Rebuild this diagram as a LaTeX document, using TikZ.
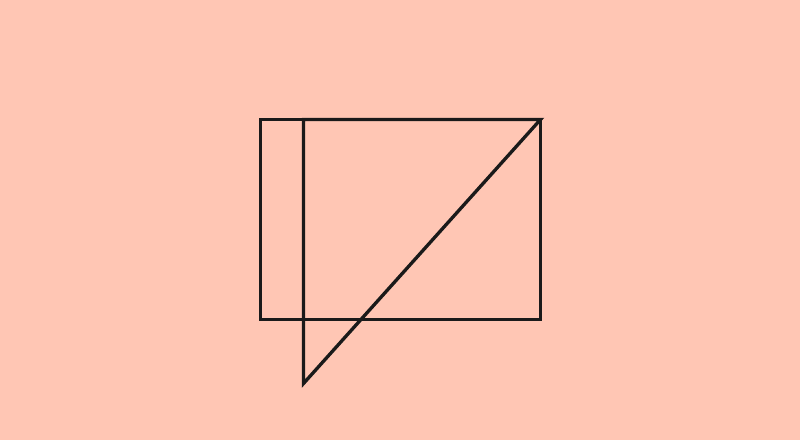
\documentclass[tikz,border=0pt]{standalone}
\usepackage{tikz}
\usetikzlibrary{positioning}
\definecolor{bgpeach}{HTML}{FFC6B4}
\definecolor{inkdark}{HTML}{1A1A1A}

\begin{document}
\begin{tikzpicture}[x=0.02cm, y=-0.02cm,
  edge/.style={draw=inkdark, line width=1.9pt, line join=miter}]
  \fill[bgpeach] (0,0) rectangle (800,440);
  \useasboundingbox (0,0) rectangle (800,440);
  % frame
  \coordinate (tl) at (260.5,119.5);
  \coordinate (br) at (540.5,319.5);
  \draw[edge] (tl) rectangle (br);
  % triangle
  \coordinate (top) at (303.5,119.5);
  \coordinate (tip) at (303.5,383.5);
  \coordinate (corner) at (540.5,119.5);
  \draw[edge] (top) -- (tip) -- (corner) -- cycle;
\end{tikzpicture}
\end{document}
